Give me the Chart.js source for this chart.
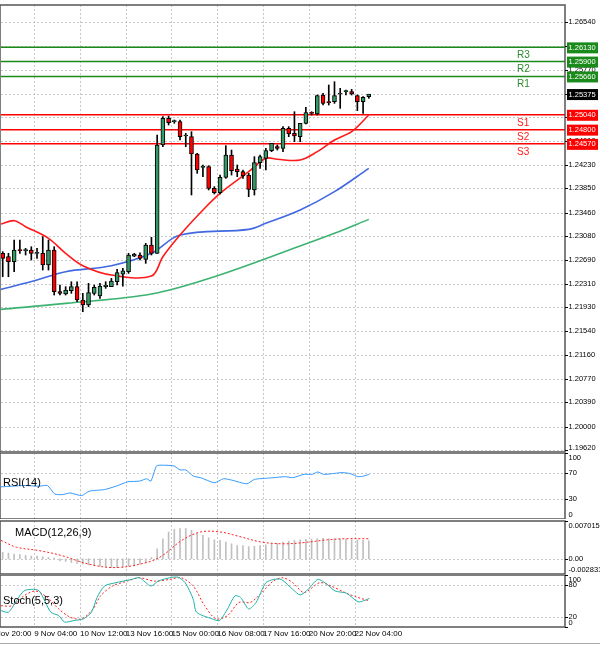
<!DOCTYPE html>
<html><head><meta charset="utf-8">
<script src="https://cdn.jsdelivr.net/npm/chart.js@4/dist/chart.umd.min.js"></script>
<style>
html,body{margin:0;padding:0;background:#fff;width:600px;height:645px;overflow:hidden;position:relative;font-family:"Liberation Sans",Arial,sans-serif}
canvas{position:absolute;left:0}
</style></head><body>
<canvas id="cMain" style="top:0px" width="600" height="452"></canvas>
<canvas id="cRsi" style="top:452px" width="600" height="67"></canvas>
<canvas id="cMacd" style="top:520px" width="600" height="54"></canvas>
<canvas id="cSto" style="top:574px" width="600" height="71"></canvas>
<script>
// ---------- DATA ----------
const opens  = [1.22800,1.22746,1.22665,1.22853,1.22843,1.22853,1.22800,1.22800,1.22611,1.22853,1.22180,1.22142,1.22196,1.22261,1.22045,1.21964,1.22153,1.22110,1.22261,1.22261,1.22341,1.22465,1.22503,1.22756,1.22773,1.22703,1.22934,1.22800,1.24551,1.24983,1.24929,1.24929,1.24697,1.24686,1.24406,1.24190,1.24201,1.23851,1.23781,1.24029,1.24390,1.24163,1.24120,1.24066,1.23824,1.24266,1.24336,1.24460,1.24524,1.24497,1.24821,1.24740,1.24686,1.24902,1.25074,1.25053,1.25360,1.25252,1.25252,1.25376,1.25414,1.25414,1.25349,1.25252,1.25333];
const highs  = [1.22827,1.22800,1.23015,1.23015,1.22880,1.22907,1.22880,1.23069,1.23015,1.22907,1.22288,1.22261,1.22341,1.22341,1.22153,1.22314,1.22288,1.22314,1.22341,1.22395,1.22541,1.22557,1.22800,1.22800,1.22810,1.22961,1.23058,1.24713,1.25009,1.25020,1.24956,1.24956,1.24740,1.24767,1.24417,1.24228,1.24217,1.23878,1.24066,1.24541,1.24470,1.24228,1.24147,1.24093,1.24363,1.24390,1.24497,1.24578,1.24551,1.24848,1.24848,1.25090,1.24902,1.25160,1.25090,1.25360,1.25387,1.25522,1.25575,1.25468,1.25441,1.25451,1.25360,1.25333,1.25365];
const lows   = [1.22422,1.22422,1.22503,1.22800,1.22773,1.22692,1.22719,1.22530,1.22530,1.22126,1.22126,1.22126,1.22153,1.22018,1.21856,1.21937,1.22126,1.22072,1.22234,1.22261,1.22288,1.22271,1.22476,1.22746,1.22692,1.22638,1.22773,1.22800,1.24524,1.24875,1.24902,1.24632,1.24524,1.23743,1.24093,1.24039,1.23824,1.23759,1.23759,1.24012,1.24066,1.24039,1.24012,1.23716,1.23743,1.24174,1.24147,1.24444,1.24470,1.24444,1.24686,1.24605,1.24605,1.24891,1.25036,1.25036,1.25198,1.25198,1.25225,1.25144,1.25360,1.25360,1.25107,1.25063,1.25306];
const closes = [1.22719,1.22665,1.22853,1.22843,1.22843,1.22800,1.22800,1.22611,1.22853,1.22180,1.22153,1.22207,1.22261,1.22045,1.21964,1.22164,1.22250,1.22271,1.22288,1.22352,1.22487,1.22519,1.22773,1.22789,1.22719,1.22934,1.22800,1.24551,1.24983,1.24912,1.24929,1.24686,1.24697,1.24406,1.24147,1.24190,1.23851,1.23781,1.24029,1.24390,1.24136,1.24120,1.24050,1.23834,1.24266,1.24363,1.24460,1.24578,1.24497,1.24821,1.24729,1.24697,1.24902,1.25074,1.25063,1.25349,1.25225,1.25236,1.25349,1.25376,1.25414,1.25376,1.25252,1.25322,1.25375];

const maRedX  = [-0.3,2,4,8,11,14,19,26,28,31,35,38,43,46,48,52,55,58,61,64];
const maRedY  = [1.23274,1.23328,1.23231,1.23042,1.22800,1.22600,1.22449,1.22433,1.22746,1.23096,1.23500,1.23770,1.24120,1.24336,1.24320,1.24309,1.24444,1.24632,1.24767,1.25036];
const maBlueX = [-0.3,6,11,19,26,31,43,46,52,58,64];
const maBlueY = [1.22217,1.22368,1.22503,1.22600,1.22800,1.23096,1.23188,1.23285,1.23500,1.23797,1.24174];
const maGreenX= [-0.3,11,26,37,52,58,64];
const maGreenY= [1.21894,1.21991,1.22142,1.22422,1.22918,1.23123,1.23349];

const levelNames  = ["R3","R2","R1","S1","S2","S3"];
const levelValues = [1.26130,1.25900,1.25660,1.25040,1.24800,1.24570];
const lastPrice = 1.25375;

const priceTicks = [1.26540,1.26150,1.25770,1.25380,1.25000,1.24610,1.24230,1.23850,1.23460,1.23080,1.22690,1.22310,1.21930,1.21540,1.21160,1.20770,1.20390,1.20000,1.19620];

const rsiX = [-0.3,1.7,3.7,6.4,7.8,9.1,10.4,11.8,13.8,15.1,17.8,19.8,21.9,23.9,25.2,25.9,26.9,27.9,29.9,31,32,33.3,34.6,37,38.6,40,42.7,44,46.7,49.4,50.7,52.7,54.1,55.1,56.1,58.1,59.4,60.8,62.1,63.1,64.1];
const rsiY = [48.7,49.7,50.8,49.7,50.8,37.9,36.9,39.5,35.4,42.1,44.6,49.7,56.4,57.4,61,57.4,80.5,81.5,80.5,74.4,74.4,65.1,62.6,54.9,61,59,53.3,60,62.1,64.1,62.6,67.7,67.7,71.3,67.7,69.2,70.3,68.7,64.1,65.1,67.7];

const macdHist = [0.00120,0.00107,0.00088,0.00076,0.00063,0.00050,0.00050,0.00038,0.00025,0.00013,-0.00038,-0.00050,-0.00069,-0.00088,-0.00101,-0.00114,-0.00133,-0.00139,-0.00151,-0.00164,-0.00164,-0.00151,-0.00139,-0.00133,-0.00101,-0.00069,0.00025,0.00183,0.00372,0.00498,0.00549,0.00562,0.00562,0.00530,0.00467,0.00435,0.00391,0.00353,0.00341,0.00309,0.00278,0.00246,0.00246,0.00227,0.00233,0.00246,0.00259,0.00278,0.00290,0.00309,0.00328,0.00341,0.00353,0.00360,0.00366,0.00372,0.00379,0.00372,0.00372,0.00366,0.00366,0.00353,0.00353,0.00341,0.00334];
const macdSigX = [-0.3,2.4,6.4,10.4,15.1,19.8,25.2,27.9,31.3,34.6,38,41.3,45.3,49.4,53.4,56.8,60.1,64.1];
const macdSigY = [0.00341,0.00215,0.00151,0.00057,-0.00101,-0.00164,-0.00069,0.00057,0.00341,0.00498,0.00498,0.00416,0.00309,0.00278,0.00309,0.00353,0.00372,0.00372];

const stoMainX = [-0.3,1.0,2.4,3.7,5.1,6.4,8.4,9.8,10.8,12.5,14.1,15.5,16.5,17.8,19.8,22.5,23.9,25.9,27.2,29.2,30.6,31.9,33.3,33.9,36.6,37.9,39.3,40.6,41.6,43,44.3,46,47.4,48.7,50.7,52,53.4,55.1,56.7,58.1,60.1,62.1,63.1,64.1];
const stoMainY = [31.5,28.4,50.4,69.3,72.5,69.3,28.4,22,9.5,12.5,15.7,28.4,56.8,78.8,85.2,91.5,94.7,78.8,88.3,94.7,95.8,85.2,53.6,28.4,15.7,12.5,34.7,59.8,56.8,34.7,47.3,85.2,91.5,91.5,72.5,61.7,72.5,91.5,82,69.3,65,48.5,50.4,54.9];
const stoSigX = [-0.3,1.7,3.7,5.7,7.8,9.8,11.8,13.8,15.8,17.1,19.2,21.8,23.9,26.5,29.2,31.2,33.3,35.3,37.3,39.3,41.3,43.3,45.3,47.3,49,50.7,52.7,55.4,57.4,60.1,62.1,64.1];
const stoSigY = [41,41,59.8,69.3,56.8,34.7,18.9,15.7,34.7,59.8,78.8,88.3,94.7,88.3,91.5,94.7,78.8,41,15.7,22,47.3,47.3,66.3,88.3,94.7,85.2,66.3,85.2,78.8,65,56.8,50.4];

const timeLabels = ["8 Nov 20:00","9 Nov 04:00","10 Nov 12:00","13 Nov 16:00","15 Nov 00:00","16 Nov 08:00","17 Nov 16:00","20 Nov 20:00","22 Nov 04:00"];
const timeLabelIdx = [-2.5,5.5,13.5,21.5,29.5,37.5,45.5,53.5,61.5];

// ---------- HELPERS ----------
const X_MIN = -0.3, X_MAX = 98.3;
const FONT = '"Liberation Sans", Arial, sans-serif';
const pts = (xs, ys) => xs.map((x,i)=>({x, y: ys[i]}));
const idx = opens.map((_,i)=>i);

function panelPlugin(cfg){
  return {
    id:'panel',
    beforeDatasetsDraw(chart){
      const {ctx, chartArea:a, scales} = chart;
      ctx.save();
      ctx.strokeStyle = '#c8c8c8'; ctx.lineWidth = 1; ctx.setLineDash([2,2]);
      timeLabelIdx.forEach(v=>{
        const x = Math.round(scales.x.getPixelForValue(v))+0.5;
        if (x < a.left || x > a.right) return;
        ctx.beginPath(); ctx.moveTo(x,a.top); ctx.lineTo(x,a.bottom); ctx.stroke();
      });
      (cfg.grid||[]).forEach(v=>{
        const y = Math.round(scales.y.getPixelForValue(v))+0.5;
        ctx.beginPath(); ctx.moveTo(a.left,y); ctx.lineTo(a.right,y); ctx.stroke();
      });
      ctx.restore();
    },
    afterDraw(chart){
      const {ctx, chartArea:a, scales} = chart;
      ctx.save();
      ctx.strokeStyle = '#555'; ctx.lineWidth = 1.5;
      ctx.strokeRect(a.left-1, a.top, a.right-a.left+1, a.bottom-a.top);
      ctx.font = '7.5px ' + FONT; ctx.fillStyle = '#000'; ctx.textBaseline = 'middle'; ctx.textAlign='left';
      ctx.strokeStyle = '#000'; ctx.lineWidth = 1;
      (cfg.ticks||[]).forEach((t,i)=>{
        const yv = scales.y.getPixelForValue(t);
        ctx.beginPath(); ctx.moveTo(a.right, Math.round(yv)+0.5); ctx.lineTo(a.right+3, Math.round(yv)+0.5); ctx.stroke();
        let ty = Math.min(Math.max(yv, a.top+5), a.bottom-4);
        ctx.fillText(cfg.tickText ? cfg.tickText[i] : String(t), a.right+3.5, ty);
      });
      if (cfg.title){
        ctx.font = '11px ' + FONT; ctx.fillStyle = '#000';
        ctx.fillText(cfg.title[0], cfg.title[1], cfg.title[2]);
      }
      if (cfg.after) cfg.after(chart);
      ctx.restore();
    }
  };
}

function baseOptions(ymin, ymax, pad){
  return {
    responsive:false, animation:false, devicePixelRatio:1,
    layout:{padding:{left:1, right:35, top:pad[0], bottom:pad[1]}},
    plugins:{legend:{display:false}, tooltip:{enabled:false}},
    scales:{
      x:{type:'linear', min:X_MIN, max:X_MAX, offset:false, display:false},
      y:{min:ymin, max:ymax, display:false}
    }
  };
}

// ---------- MAIN ----------
const green = '#339966', red = '#ff0000';
const mainDatasets = [
  {type:'bar', order:0, data: idx.map(i=>({x:i, y:[opens[i], closes[i]]})),
   backgroundColor: idx.map(i=> closes[i] >= opens[i] ? green : red),
   borderColor:'#000', borderWidth:1, borderSkipped:false, barThickness:4, minBarLength:1, grouped:false},
  {type:'bar', order:1, data: idx.map(i=>({x:i, y:[lows[i], highs[i]]})),
   backgroundColor:'#000', barThickness:1, grouped:false},
  {type:'line', order:2, data: pts(maRedX, maRedY), borderColor:'#ff1a1a', borderWidth:1.6, pointRadius:0, tension:0.35},
  {type:'line', order:2, data: pts(maBlueX, maBlueY), borderColor:'#4169e1', borderWidth:1.6, pointRadius:0, tension:0.35},
  {type:'line', order:2, data: pts(maGreenX, maGreenY), borderColor:'#3cb371', borderWidth:1.6, pointRadius:0, tension:0.35},
];
levelValues.forEach((v,i)=>{
  mainDatasets.push({type:'line', order:3, data:[{x:X_MIN,y:v},{x:X_MAX,y:v}],
    borderColor: i<3 ? '#1a8a1a' : '#ff0000', borderWidth:1.5, pointRadius:0});
});

new Chart(document.getElementById('cMain'), {
  type:'bar',
  data:{datasets: mainDatasets},
  options: baseOptions(1.19588, 1.26815, [5,0]),
  plugins:[panelPlugin({
    grid: priceTicks, ticks: priceTicks, tickText: priceTicks.map(v=>v.toFixed(5)),
    after(chart){
      const {ctx, chartArea:a, scales} = chart;
      ctx.font = '7.5px ' + FONT; ctx.textBaseline='middle';
      const box = (v, bg) => {
        const y = scales.y.getPixelForValue(v);
        ctx.fillStyle = bg; ctx.fillRect(a.right+2, y-5, 31, 11);
        ctx.fillStyle = '#fff'; ctx.textAlign='left'; ctx.fillText(v.toFixed(5), a.right+3.5, y+0.5);
      };
      levelValues.forEach((v,i)=> box(v, i<3 ? '#1a8a1a' : '#ff0000'));
      box(lastPrice, '#000');
      ctx.font = '10px ' + FONT;
      levelNames.forEach((n,i)=>{
        const y = scales.y.getPixelForValue(levelValues[i]);
        ctx.fillStyle = i<3 ? '#2e8b2e' : '#ff2020';
        ctx.fillText(n, 517, y+8);
      });
    }
  })]
});

// ---------- RSI ----------
new Chart(document.getElementById('cRsi'), {
  type:'line',
  data:{datasets:[{data: pts(rsiX, rsiY), borderColor:'#3399ff', borderWidth:1, pointRadius:0, tension:0.2}]},
  options: baseOptions(0, 100, [1,0]),
  plugins:[panelPlugin({grid:[70,30], ticks:[100,70,30,0], title:['RSI(14)',3,31]})]
});

// ---------- MACD ----------
new Chart(document.getElementById('cMacd'), {
  type:'bar',
  data:{datasets:[
    {type:'bar', data: idx.map(i=>({x:i, y:macdHist[i]})), backgroundColor:'#c0c0c0', barThickness:1, order:1},
    {type:'line', data: pts(macdSigX, macdSigY), borderColor:'#ff2020', borderWidth:1, borderDash:[2,2], pointRadius:0, tension:0.35, order:0}
  ]},
  options: baseOptions(-0.002831, 0.007015, [1,0]),
  plugins:[panelPlugin({grid:[0], ticks:[0.007015,0,-0.002831], tickText:['0.007015','0.00','-0.002831'], title:['MACD(12,26,9)',15,13]})]
});

// ---------- STOCH ----------
new Chart(document.getElementById('cSto'), {
  type:'line',
  data:{datasets:[
    {data: pts(stoMainX, stoMainY), borderColor:'#20b2aa', borderWidth:1, pointRadius:0, tension:0.25},
    {data: pts(stoSigX, stoSigY), borderColor:'#ff2020', borderWidth:1, borderDash:[2,2], pointRadius:0, tension:0.3}
  ]},
  options: baseOptions(0, 100, [1,18]),
  plugins:[panelPlugin({grid:[80,20], ticks:[100,80,20,0], title:['Stoch(5,5,3)',3,27],
    after(chart){
      const {ctx, chartArea:a, scales} = chart;
      ctx.font = '8px ' + FONT; ctx.fillStyle='#000'; ctx.textBaseline='middle'; ctx.textAlign='left';
      timeLabelIdx.forEach((v,i)=>{
        const x = scales.x.getPixelForValue(v);
        ctx.fillText(timeLabels[i], x, a.bottom+7);
      });
      ctx.strokeStyle='#aaa'; ctx.lineWidth=1;
      ctx.beginPath(); ctx.moveTo(0,69.5); ctx.lineTo(600,69.5); ctx.stroke();
    }})]
});
</script>
</body></html>
